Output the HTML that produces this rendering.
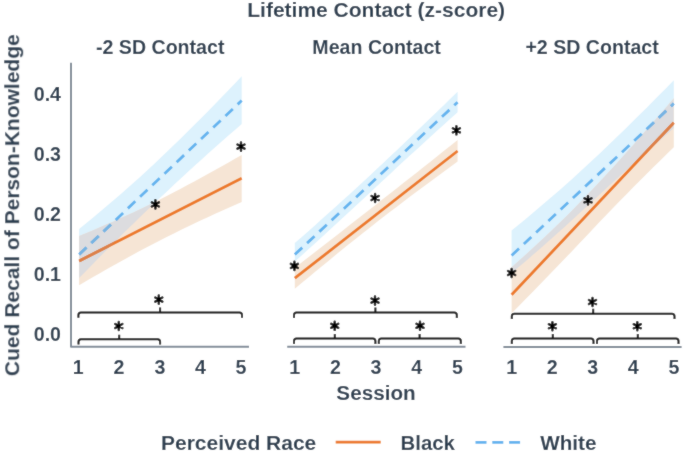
<!DOCTYPE html>
<html><head><meta charset="utf-8"><style>
html,body{margin:0;padding:0;background:#fff;width:685px;height:452px;overflow:hidden}
svg{display:block} svg text{will-change:transform}
text{font-family:"Liberation Sans",sans-serif}
</style></head><body>
<svg width="685" height="452" viewBox="0 0 685 452">
<defs><filter id="soft" x="0" y="0" width="685" height="452" filterUnits="userSpaceOnUse"><feConvolveMatrix order="3" kernelMatrix="1 2 1 2 24 2 1 2 1" divisor="36" edgeMode="duplicate"/></filter></defs><g filter="url(#soft)">
<rect width="685" height="452" fill="#fff"/>
<clipPath id="cb0"><polygon points="79.10,229.10 85.88,223.54 92.65,217.93 99.42,212.27 106.20,206.55 112.97,200.77 119.75,194.91 126.53,188.99 133.30,182.98 140.07,176.88 146.85,170.70 153.62,164.42 160.40,158.05 167.17,151.59 173.95,145.06 180.72,138.46 187.50,131.79 194.27,125.05 201.05,118.25 207.82,111.39 214.60,104.47 221.38,97.50 228.15,90.48 234.92,83.41 241.70,76.30 241.70,124.00 234.92,129.90 228.15,135.83 221.38,141.80 214.60,147.81 207.82,153.86 201.05,159.95 194.27,166.10 187.50,172.29 180.72,178.52 173.95,184.81 167.17,191.16 160.40,197.55 153.62,204.00 146.85,210.50 140.07,217.05 133.30,223.65 126.53,230.30 119.75,237.00 112.97,243.75 106.20,250.54 99.42,257.37 92.65,264.25 85.88,271.16 79.10,278.10"/></clipPath>
<polygon points="79.10,229.10 85.88,223.54 92.65,217.93 99.42,212.27 106.20,206.55 112.97,200.77 119.75,194.91 126.53,188.99 133.30,182.98 140.07,176.88 146.85,170.70 153.62,164.42 160.40,158.05 167.17,151.59 173.95,145.06 180.72,138.46 187.50,131.79 194.27,125.05 201.05,118.25 207.82,111.39 214.60,104.47 221.38,97.50 228.15,90.48 234.92,83.41 241.70,76.30 241.70,124.00 234.92,129.90 228.15,135.83 221.38,141.80 214.60,147.81 207.82,153.86 201.05,159.95 194.27,166.10 187.50,172.29 180.72,178.52 173.95,184.81 167.17,191.16 160.40,197.55 153.62,204.00 146.85,210.50 140.07,217.05 133.30,223.65 126.53,230.30 119.75,237.00 112.97,243.75 106.20,250.54 99.42,257.37 92.65,264.25 85.88,271.16 79.10,278.10" fill="#ddf2fd"/>
<polygon points="79.10,236.00 85.88,233.22 92.65,230.39 99.42,227.52 106.20,224.61 112.97,221.64 119.75,218.61 126.53,215.53 133.30,212.39 140.07,209.18 146.85,205.90 153.62,202.56 160.40,199.15 167.17,195.68 173.95,192.18 180.72,188.63 187.50,185.04 194.27,181.41 201.05,177.74 207.82,174.04 214.60,170.29 221.38,166.52 228.15,162.71 234.92,158.87 241.70,155.00 241.70,201.90 234.92,204.89 228.15,207.92 221.38,210.97 214.60,214.07 207.82,217.20 201.05,220.36 194.27,223.57 187.50,226.82 180.72,230.11 173.95,233.45 167.17,236.83 160.40,240.25 153.62,243.72 146.85,247.25 140.07,250.84 133.30,254.48 126.53,258.17 119.75,261.91 112.97,265.70 106.20,269.54 99.42,273.42 92.65,277.34 85.88,281.30 79.10,285.30" fill="#f6e5d5"/>
<polygon points="79.10,236.00 85.88,233.22 92.65,230.39 99.42,227.52 106.20,224.61 112.97,221.64 119.75,218.61 126.53,215.53 133.30,212.39 140.07,209.18 146.85,205.90 153.62,202.56 160.40,199.15 167.17,195.68 173.95,192.18 180.72,188.63 187.50,185.04 194.27,181.41 201.05,177.74 207.82,174.04 214.60,170.29 221.38,166.52 228.15,162.71 234.92,158.87 241.70,155.00 241.70,201.90 234.92,204.89 228.15,207.92 221.38,210.97 214.60,214.07 207.82,217.20 201.05,220.36 194.27,223.57 187.50,226.82 180.72,230.11 173.95,233.45 167.17,236.83 160.40,240.25 153.62,243.72 146.85,247.25 140.07,250.84 133.30,254.48 126.53,258.17 119.75,261.91 112.97,265.70 106.20,269.54 99.42,273.42 92.65,277.34 85.88,281.30 79.10,285.30" fill="#dcdcdf" clip-path="url(#cb0)"/>
<clipPath id="cb1"><polygon points="294.80,243.10 301.58,237.14 308.37,231.15 315.15,225.14 321.93,219.11 328.72,213.05 335.50,206.95 342.28,200.83 349.07,194.66 355.85,188.46 362.63,182.21 369.42,175.93 376.20,169.60 382.98,163.24 389.77,156.85 396.55,150.43 403.33,144.00 410.12,137.53 416.90,131.05 423.68,124.54 430.47,118.01 437.25,111.46 444.03,104.89 450.82,98.30 457.60,91.70 457.60,112.20 450.82,118.31 444.03,124.44 437.25,130.58 430.47,136.75 423.68,142.93 416.90,149.13 410.12,155.35 403.33,161.59 396.55,167.86 389.77,174.15 382.98,180.46 376.20,186.80 369.42,193.14 362.63,199.46 355.85,205.77 349.07,212.06 342.28,218.32 335.50,224.57 328.72,230.80 321.93,237.01 315.15,243.19 308.37,249.36 301.58,255.49 294.80,261.60"/></clipPath>
<polygon points="294.80,243.10 301.58,237.14 308.37,231.15 315.15,225.14 321.93,219.11 328.72,213.05 335.50,206.95 342.28,200.83 349.07,194.66 355.85,188.46 362.63,182.21 369.42,175.93 376.20,169.60 382.98,163.24 389.77,156.85 396.55,150.43 403.33,144.00 410.12,137.53 416.90,131.05 423.68,124.54 430.47,118.01 437.25,111.46 444.03,104.89 450.82,98.30 457.60,91.70 457.60,112.20 450.82,118.31 444.03,124.44 437.25,130.58 430.47,136.75 423.68,142.93 416.90,149.13 410.12,155.35 403.33,161.59 396.55,167.86 389.77,174.15 382.98,180.46 376.20,186.80 369.42,193.14 362.63,199.46 355.85,205.77 349.07,212.06 342.28,218.32 335.50,224.57 328.72,230.80 321.93,237.01 315.15,243.19 308.37,249.36 301.58,255.49 294.80,261.60" fill="#ddf2fd"/>
<polygon points="294.80,267.90 301.58,262.62 308.37,257.33 315.15,252.04 321.93,246.76 328.72,241.47 335.50,236.17 342.28,230.88 349.07,225.59 355.85,220.29 362.63,215.00 369.42,209.70 376.20,204.40 382.98,199.09 389.77,193.78 396.55,188.45 403.33,183.11 410.12,177.76 416.90,172.39 423.68,167.02 430.47,161.64 437.25,156.24 444.03,150.84 450.82,145.42 457.60,140.00 457.60,161.60 450.82,166.53 444.03,171.48 437.25,176.45 430.47,181.45 423.68,186.47 416.90,191.52 410.12,196.61 403.33,201.73 396.55,206.89 389.77,212.08 382.98,217.32 376.20,222.60 369.42,227.92 362.63,233.28 355.85,238.68 349.07,244.11 342.28,249.59 335.50,255.09 328.72,260.63 321.93,266.20 315.15,271.79 308.37,277.40 301.58,283.04 294.80,288.70" fill="#f6e5d5"/>
<polygon points="294.80,267.90 301.58,262.62 308.37,257.33 315.15,252.04 321.93,246.76 328.72,241.47 335.50,236.17 342.28,230.88 349.07,225.59 355.85,220.29 362.63,215.00 369.42,209.70 376.20,204.40 382.98,199.09 389.77,193.78 396.55,188.45 403.33,183.11 410.12,177.76 416.90,172.39 423.68,167.02 430.47,161.64 437.25,156.24 444.03,150.84 450.82,145.42 457.60,140.00 457.60,161.60 450.82,166.53 444.03,171.48 437.25,176.45 430.47,181.45 423.68,186.47 416.90,191.52 410.12,196.61 403.33,201.73 396.55,206.89 389.77,212.08 382.98,217.32 376.20,222.60 369.42,227.92 362.63,233.28 355.85,238.68 349.07,244.11 342.28,249.59 335.50,255.09 328.72,260.63 321.93,266.20 315.15,271.79 308.37,277.40 301.58,283.04 294.80,288.70" fill="#dcdcdf" clip-path="url(#cb1)"/>
<clipPath id="cb2"><polygon points="511.60,230.50 518.36,224.97 525.12,219.38 531.88,213.75 538.63,208.07 545.39,202.32 552.15,196.51 558.91,190.64 565.67,184.68 572.42,178.65 579.18,172.53 585.94,166.34 592.70,160.05 599.46,153.69 606.22,147.28 612.98,140.80 619.73,134.28 626.49,127.69 633.25,121.06 640.01,114.37 646.77,107.64 653.52,100.87 660.28,94.05 667.04,87.19 673.80,80.30 673.80,128.10 667.04,133.98 660.28,139.88 653.52,145.82 646.77,151.80 640.01,157.81 633.25,163.86 626.49,169.95 619.73,176.09 612.98,182.26 606.22,188.48 599.46,194.74 592.70,201.05 585.94,207.35 579.18,213.61 572.42,219.81 565.67,225.96 558.91,232.06 552.15,238.10 545.39,244.08 538.63,250.01 531.88,255.86 525.12,261.65 518.36,267.37 511.60,273.00"/></clipPath>
<polygon points="511.60,230.50 518.36,224.97 525.12,219.38 531.88,213.75 538.63,208.07 545.39,202.32 552.15,196.51 558.91,190.64 565.67,184.68 572.42,178.65 579.18,172.53 585.94,166.34 592.70,160.05 599.46,153.69 606.22,147.28 612.98,140.80 619.73,134.28 626.49,127.69 633.25,121.06 640.01,114.37 646.77,107.64 653.52,100.87 660.28,94.05 667.04,87.19 673.80,80.30 673.80,128.10 667.04,133.98 660.28,139.88 653.52,145.82 646.77,151.80 640.01,157.81 633.25,163.86 626.49,169.95 619.73,176.09 612.98,182.26 606.22,188.48 599.46,194.74 592.70,201.05 585.94,207.35 579.18,213.61 572.42,219.81 565.67,225.96 558.91,232.06 552.15,238.10 545.39,244.08 538.63,250.01 531.88,255.86 525.12,261.65 518.36,267.37 511.60,273.00" fill="#ddf2fd"/>
<polygon points="511.60,267.30 518.36,261.24 525.12,255.13 531.88,248.96 538.63,242.72 545.39,236.40 552.15,230.00 558.91,223.50 565.67,216.89 572.42,210.17 579.18,203.33 585.94,196.35 592.70,189.25 599.46,182.04 606.22,174.76 612.98,167.40 619.73,159.96 626.49,152.46 633.25,144.89 640.01,137.26 646.77,129.57 653.52,121.82 660.28,114.03 667.04,106.19 673.80,98.30 673.80,147.20 667.04,153.78 660.28,160.39 653.52,167.05 646.77,173.75 640.01,180.50 633.25,187.29 626.49,194.14 619.73,201.05 612.98,208.01 606.22,215.03 599.46,222.11 592.70,229.25 585.94,236.41 579.18,243.54 572.42,250.64 565.67,257.72 558.91,264.77 552.15,271.79 545.39,278.79 538.63,285.75 531.88,292.69 525.12,299.59 518.36,306.46 511.60,313.30" fill="#f6e5d5"/>
<polygon points="511.60,267.30 518.36,261.24 525.12,255.13 531.88,248.96 538.63,242.72 545.39,236.40 552.15,230.00 558.91,223.50 565.67,216.89 572.42,210.17 579.18,203.33 585.94,196.35 592.70,189.25 599.46,182.04 606.22,174.76 612.98,167.40 619.73,159.96 626.49,152.46 633.25,144.89 640.01,137.26 646.77,129.57 653.52,121.82 660.28,114.03 667.04,106.19 673.80,98.30 673.80,147.20 667.04,153.78 660.28,160.39 653.52,167.05 646.77,173.75 640.01,180.50 633.25,187.29 626.49,194.14 619.73,201.05 612.98,208.01 606.22,215.03 599.46,222.11 592.70,229.25 585.94,236.41 579.18,243.54 572.42,250.64 565.67,257.72 558.91,264.77 552.15,271.79 545.39,278.79 538.63,285.75 531.88,292.69 525.12,299.59 518.36,306.46 511.60,313.30" fill="#dcdcdf" clip-path="url(#cb2)"/>
<clipPath id="co0"><polygon points="79.10,236.00 85.88,233.22 92.65,230.39 99.42,227.52 106.20,224.61 112.97,221.64 119.75,218.61 126.53,215.53 133.30,212.39 140.07,209.18 146.85,205.90 153.62,202.56 160.40,199.15 167.17,195.68 173.95,192.18 180.72,188.63 187.50,185.04 194.27,181.41 201.05,177.74 207.82,174.04 214.60,170.29 221.38,166.52 228.15,162.71 234.92,158.87 241.70,155.00 241.70,201.90 234.92,204.89 228.15,207.92 221.38,210.97 214.60,214.07 207.82,217.20 201.05,220.36 194.27,223.57 187.50,226.82 180.72,230.11 173.95,233.45 167.17,236.83 160.40,240.25 153.62,243.72 146.85,247.25 140.07,250.84 133.30,254.48 126.53,258.17 119.75,261.91 112.97,265.70 106.20,269.54 99.42,273.42 92.65,277.34 85.88,281.30 79.10,285.30"/></clipPath>
<line x1="79.1" y1="261.0" x2="241.7" y2="178.3" stroke="#ec7820" stroke-width="2.8"/>
<line x1="79.1" y1="261.0" x2="241.7" y2="178.3" stroke="#dc8046" stroke-width="2.8" clip-path="url(#cb0)"/>
<line x1="79.1" y1="254.6" x2="241.7" y2="100.5" stroke="#62b3ef" stroke-width="2.8" stroke-dasharray="10.2 6.6"/>
<line x1="79.1" y1="254.6" x2="241.7" y2="100.5" stroke="#76b3e2" stroke-width="2.8" stroke-dasharray="10.2 6.6" clip-path="url(#co0)"/>
<clipPath id="co1"><polygon points="294.80,267.90 301.58,262.62 308.37,257.33 315.15,252.04 321.93,246.76 328.72,241.47 335.50,236.17 342.28,230.88 349.07,225.59 355.85,220.29 362.63,215.00 369.42,209.70 376.20,204.40 382.98,199.09 389.77,193.78 396.55,188.45 403.33,183.11 410.12,177.76 416.90,172.39 423.68,167.02 430.47,161.64 437.25,156.24 444.03,150.84 450.82,145.42 457.60,140.00 457.60,161.60 450.82,166.53 444.03,171.48 437.25,176.45 430.47,181.45 423.68,186.47 416.90,191.52 410.12,196.61 403.33,201.73 396.55,206.89 389.77,212.08 382.98,217.32 376.20,222.60 369.42,227.92 362.63,233.28 355.85,238.68 349.07,244.11 342.28,249.59 335.50,255.09 328.72,260.63 321.93,266.20 315.15,271.79 308.37,277.40 301.58,283.04 294.80,288.70"/></clipPath>
<line x1="294.8" y1="278.2" x2="457.6" y2="151" stroke="#ec7820" stroke-width="2.8"/>
<line x1="294.8" y1="278.2" x2="457.6" y2="151" stroke="#dc8046" stroke-width="2.8" clip-path="url(#cb1)"/>
<line x1="294.8" y1="254.6" x2="457.6" y2="102.2" stroke="#62b3ef" stroke-width="2.8" stroke-dasharray="10.2 6.6"/>
<line x1="294.8" y1="254.6" x2="457.6" y2="102.2" stroke="#76b3e2" stroke-width="2.8" stroke-dasharray="10.2 6.6" clip-path="url(#co1)"/>
<clipPath id="co2"><polygon points="511.60,267.30 518.36,261.24 525.12,255.13 531.88,248.96 538.63,242.72 545.39,236.40 552.15,230.00 558.91,223.50 565.67,216.89 572.42,210.17 579.18,203.33 585.94,196.35 592.70,189.25 599.46,182.04 606.22,174.76 612.98,167.40 619.73,159.96 626.49,152.46 633.25,144.89 640.01,137.26 646.77,129.57 653.52,121.82 660.28,114.03 667.04,106.19 673.80,98.30 673.80,147.20 667.04,153.78 660.28,160.39 653.52,167.05 646.77,173.75 640.01,180.50 633.25,187.29 626.49,194.14 619.73,201.05 612.98,208.01 606.22,215.03 599.46,222.11 592.70,229.25 585.94,236.41 579.18,243.54 572.42,250.64 565.67,257.72 558.91,264.77 552.15,271.79 545.39,278.79 538.63,285.75 531.88,292.69 525.12,299.59 518.36,306.46 511.60,313.30"/></clipPath>
<line x1="511.6" y1="294.8" x2="673.8" y2="122.7" stroke="#ec7820" stroke-width="2.8"/>
<line x1="511.6" y1="294.8" x2="673.8" y2="122.7" stroke="#dc8046" stroke-width="2.8" clip-path="url(#cb2)"/>
<line x1="511.6" y1="255.5" x2="673.8" y2="103.6" stroke="#62b3ef" stroke-width="2.8" stroke-dasharray="10.2 6.6"/>
<line x1="511.6" y1="255.5" x2="673.8" y2="103.6" stroke="#76b3e2" stroke-width="2.8" stroke-dasharray="10.2 6.6" clip-path="url(#co2)"/>
<path d="M71 62.7V346.8H249" stroke="#808b98" stroke-width="2" fill="none" stroke-linejoin="round"/>
<path d="M287.2 346.8H465.5" stroke="#808b98" stroke-width="2" fill="none"/>
<path d="M503.4 346.9H681.6" stroke="#808b98" stroke-width="2" fill="none"/>
<path d="M78.50 344.60L78.50 341.70Q78.50 339.20 81.00 339.20L157.60 339.20Q160.10 339.20 160.10 341.70L160.10 344.60M119.20 339.20L119.20 334.70" stroke="#000" stroke-width="2" fill="none"/>
<path d="M78.40 317.70L78.40 314.90Q78.40 312.40 80.90 312.40L239.50 312.40Q242.00 312.40 242.00 314.90L242.00 317.70M160.10 312.40L160.10 307.40" stroke="#000" stroke-width="2" fill="none"/>
<path d="M294.00 344.00L294.00 341.00Q294.00 338.50 296.50 338.50L372.90 338.50Q375.40 338.50 375.40 341.00L375.40 344.00M334.80 338.50L334.80 334.00" stroke="#000" stroke-width="2" fill="none"/>
<path d="M378.80 344.00L378.80 341.00Q378.80 338.50 381.30 338.50L458.30 338.50Q460.80 338.50 460.80 341.00L460.80 344.00M419.60 338.50L419.60 334.00" stroke="#000" stroke-width="2" fill="none"/>
<path d="M294.00 317.90L294.00 315.10Q294.00 312.60 296.50 312.60L454.30 312.60Q456.80 312.60 456.80 315.10L456.80 317.90M375.40 312.60L375.40 307.40" stroke="#000" stroke-width="2" fill="none"/>
<path d="M511.80 344.00L511.80 341.00Q511.80 338.50 514.30 338.50L591.00 338.50Q593.50 338.50 593.50 341.00L593.50 344.00M552.80 338.50L552.80 334.00" stroke="#000" stroke-width="2" fill="none"/>
<path d="M597.00 344.00L597.00 341.00Q597.00 338.50 599.50 338.50L676.00 338.50Q678.50 338.50 678.50 341.00L678.50 344.00M637.80 338.50L637.80 334.00" stroke="#000" stroke-width="2" fill="none"/>
<path d="M511.80 319.10L511.80 316.30Q511.80 313.80 514.30 313.80L672.00 313.80Q674.50 313.80 674.50 316.30L674.50 319.10M593.20 313.80L593.20 308.80" stroke="#000" stroke-width="2" fill="none"/>
<path d="M155.40 208.50L155.40 200.30M151.85 206.45L158.95 202.35M151.85 202.35L158.95 206.45" stroke="#000" stroke-width="2.4" stroke-linecap="round" fill="none"/><circle cx="155.40" cy="204.40" r="1.9" fill="#000"/>
<path d="M241.00 150.70L241.00 142.50M237.45 148.65L244.55 144.55M237.45 144.55L244.55 148.65" stroke="#000" stroke-width="2.4" stroke-linecap="round" fill="none"/><circle cx="241.00" cy="146.60" r="1.9" fill="#000"/>
<path d="M118.80 330.10L118.80 321.90M115.25 328.05L122.35 323.95M115.25 323.95L122.35 328.05" stroke="#000" stroke-width="2.4" stroke-linecap="round" fill="none"/><circle cx="118.80" cy="326.00" r="1.9" fill="#000"/>
<path d="M158.80 303.70L158.80 295.50M155.25 301.65L162.35 297.55M155.25 297.55L162.35 301.65" stroke="#000" stroke-width="2.4" stroke-linecap="round" fill="none"/><circle cx="158.80" cy="299.60" r="1.9" fill="#000"/>
<path d="M294.40 270.00L294.40 261.80M290.85 267.95L297.95 263.85M290.85 263.85L297.95 267.95" stroke="#000" stroke-width="2.4" stroke-linecap="round" fill="none"/><circle cx="294.40" cy="265.90" r="1.9" fill="#000"/>
<path d="M375.10 202.10L375.10 193.90M371.55 200.05L378.65 195.95M371.55 195.95L378.65 200.05" stroke="#000" stroke-width="2.4" stroke-linecap="round" fill="none"/><circle cx="375.10" cy="198.00" r="1.9" fill="#000"/>
<path d="M456.40 134.40L456.40 126.20M452.85 132.35L459.95 128.25M452.85 128.25L459.95 132.35" stroke="#000" stroke-width="2.4" stroke-linecap="round" fill="none"/><circle cx="456.40" cy="130.30" r="1.9" fill="#000"/>
<path d="M334.70 329.90L334.70 321.70M331.15 327.85L338.25 323.75M331.15 323.75L338.25 327.85" stroke="#000" stroke-width="2.4" stroke-linecap="round" fill="none"/><circle cx="334.70" cy="325.80" r="1.9" fill="#000"/>
<path d="M375.00 304.70L375.00 296.50M371.45 302.65L378.55 298.55M371.45 298.55L378.55 302.65" stroke="#000" stroke-width="2.4" stroke-linecap="round" fill="none"/><circle cx="375.00" cy="300.60" r="1.9" fill="#000"/>
<path d="M420.00 329.90L420.00 321.70M416.45 327.85L423.55 323.75M416.45 323.75L423.55 327.85" stroke="#000" stroke-width="2.4" stroke-linecap="round" fill="none"/><circle cx="420.00" cy="325.80" r="1.9" fill="#000"/>
<path d="M511.60 277.10L511.60 268.90M508.05 275.05L515.15 270.95M508.05 270.95L515.15 275.05" stroke="#000" stroke-width="2.4" stroke-linecap="round" fill="none"/><circle cx="511.60" cy="273.00" r="1.9" fill="#000"/>
<path d="M588.00 204.40L588.00 196.20M584.45 202.35L591.55 198.25M584.45 198.25L591.55 202.35" stroke="#000" stroke-width="2.4" stroke-linecap="round" fill="none"/><circle cx="588.00" cy="200.30" r="1.9" fill="#000"/>
<path d="M552.40 330.30L552.40 322.10M548.85 328.25L555.95 324.15M548.85 324.15L555.95 328.25" stroke="#000" stroke-width="2.4" stroke-linecap="round" fill="none"/><circle cx="552.40" cy="326.20" r="1.9" fill="#000"/>
<path d="M592.50 306.10L592.50 297.90M588.95 304.05L596.05 299.95M588.95 299.95L596.05 304.05" stroke="#000" stroke-width="2.4" stroke-linecap="round" fill="none"/><circle cx="592.50" cy="302.00" r="1.9" fill="#000"/>
<path d="M637.30 330.30L637.30 322.10M633.75 328.25L640.85 324.15M633.75 324.15L640.85 328.25" stroke="#000" stroke-width="2.4" stroke-linecap="round" fill="none"/><circle cx="637.30" cy="326.20" r="1.9" fill="#000"/>
<text x="376.2" y="17" font-size="21" text-anchor="middle" font-family="Liberation Sans" font-weight="bold" fill="#2c3e50">Lifetime Contact (z-score)</text>
<text x="160.2" y="54" font-size="19.6" text-anchor="middle" font-family="Liberation Sans" font-weight="bold" fill="#2c3e50">-2 SD Contact</text>
<text x="376.6" y="54" font-size="19.6" text-anchor="middle" font-family="Liberation Sans" font-weight="bold" fill="#2c3e50">Mean Contact</text>
<text x="592.1" y="54" font-size="19.6" text-anchor="middle" font-family="Liberation Sans" font-weight="bold" fill="#2c3e50">+2 SD Contact</text>
<text transform="translate(19.2 205.2) rotate(-90)" x="0" y="0" font-size="21" text-anchor="middle" font-family="Liberation Sans" font-weight="bold" fill="#2c3e50">Cued Recall of Person-Knowledge</text>
<text x="61" y="341.0" font-size="19.6" text-anchor="end" font-family="Liberation Sans" font-weight="bold" fill="#2c3e50">0.0</text>
<text x="61" y="280.9" font-size="19.6" text-anchor="end" font-family="Liberation Sans" font-weight="bold" fill="#2c3e50">0.1</text>
<text x="61" y="220.8" font-size="19.6" text-anchor="end" font-family="Liberation Sans" font-weight="bold" fill="#2c3e50">0.2</text>
<text x="61" y="160.7" font-size="19.6" text-anchor="end" font-family="Liberation Sans" font-weight="bold" fill="#2c3e50">0.3</text>
<text x="61" y="100.6" font-size="19.6" text-anchor="end" font-family="Liberation Sans" font-weight="bold" fill="#2c3e50">0.4</text>
<text x="78.3" y="373.8" font-size="19.6" text-anchor="middle" font-family="Liberation Sans" font-weight="bold" fill="#2c3e50">1</text>
<text x="119" y="373.8" font-size="19.6" text-anchor="middle" font-family="Liberation Sans" font-weight="bold" fill="#2c3e50">2</text>
<text x="160" y="373.8" font-size="19.6" text-anchor="middle" font-family="Liberation Sans" font-weight="bold" fill="#2c3e50">3</text>
<text x="200.5" y="373.8" font-size="19.6" text-anchor="middle" font-family="Liberation Sans" font-weight="bold" fill="#2c3e50">4</text>
<text x="241" y="373.8" font-size="19.6" text-anchor="middle" font-family="Liberation Sans" font-weight="bold" fill="#2c3e50">5</text>
<text x="294.8" y="373.8" font-size="19.6" text-anchor="middle" font-family="Liberation Sans" font-weight="bold" fill="#2c3e50">1</text>
<text x="335.4" y="373.8" font-size="19.6" text-anchor="middle" font-family="Liberation Sans" font-weight="bold" fill="#2c3e50">2</text>
<text x="376" y="373.8" font-size="19.6" text-anchor="middle" font-family="Liberation Sans" font-weight="bold" fill="#2c3e50">3</text>
<text x="416.7" y="373.8" font-size="19.6" text-anchor="middle" font-family="Liberation Sans" font-weight="bold" fill="#2c3e50">4</text>
<text x="457.4" y="373.8" font-size="19.6" text-anchor="middle" font-family="Liberation Sans" font-weight="bold" fill="#2c3e50">5</text>
<text x="511.6" y="373.8" font-size="19.6" text-anchor="middle" font-family="Liberation Sans" font-weight="bold" fill="#2c3e50">1</text>
<text x="552.2" y="373.8" font-size="19.6" text-anchor="middle" font-family="Liberation Sans" font-weight="bold" fill="#2c3e50">2</text>
<text x="592.8" y="373.8" font-size="19.6" text-anchor="middle" font-family="Liberation Sans" font-weight="bold" fill="#2c3e50">3</text>
<text x="633.3" y="373.8" font-size="19.6" text-anchor="middle" font-family="Liberation Sans" font-weight="bold" fill="#2c3e50">4</text>
<text x="673.9" y="373.8" font-size="19.6" text-anchor="middle" font-family="Liberation Sans" font-weight="bold" fill="#2c3e50">5</text>
<text x="376" y="400" font-size="20.7" text-anchor="middle" font-family="Liberation Sans" font-weight="bold" fill="#2c3e50">Session</text>
<text x="161" y="450" font-size="21" font-family="Liberation Sans" font-weight="bold" fill="#2c3e50">Perceived Race</text>
<line x1="335.7" y1="442.2" x2="380.7" y2="442.2" stroke="#ec7820" stroke-width="2.7"/>
<text x="400.5" y="450.2" font-size="20.4" font-family="Liberation Sans" font-weight="bold" fill="#2c3e50">Black</text>
<line x1="475.5" y1="442.4" x2="520.5" y2="442.4" stroke="#62b3ef" stroke-width="2.7" stroke-dasharray="11 5.8"/>
<text x="540.2" y="450.2" font-size="20.7" font-family="Liberation Sans" font-weight="bold" fill="#2c3e50">White</text>
</g></svg>
</body></html>
